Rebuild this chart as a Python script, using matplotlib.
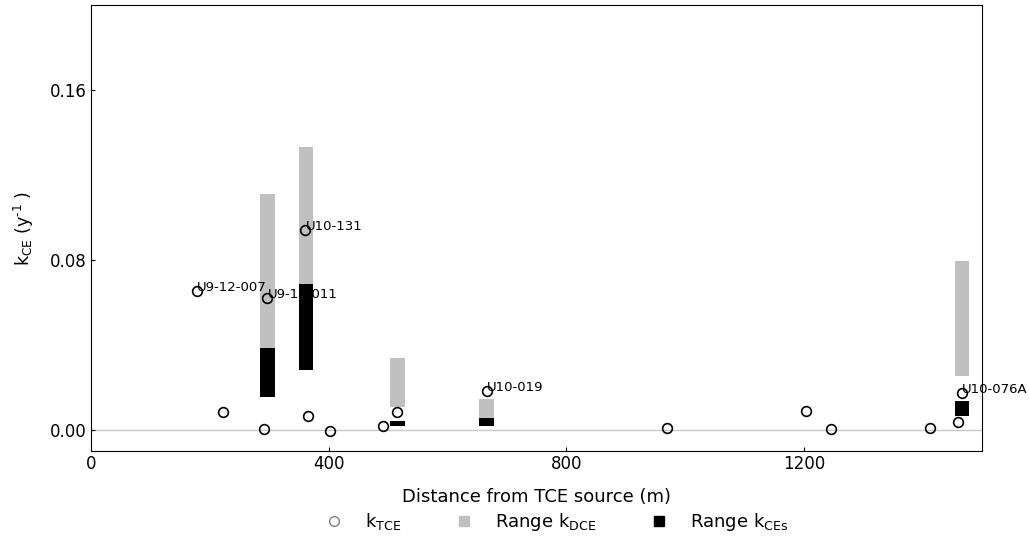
import matplotlib.pyplot as plt
from matplotlib.lines import Line2D

# k_TCE por pozo (distancia en m, k en 1/y)
dist_tce = [178, 222, 292, 297, 361, 366, 402, 491, 516, 666, 969, 1203, 1246, 1413, 1460, 1467]
k_tce = [0.0652, 0.0084, 0.0005, 0.062, 0.0939, 0.0066, -0.0008, 0.002, 0.0084,
         0.0183, 0.0006, 0.0089, 0.0003, 0.0008, 0.0036, 0.0172]

# nombres de pozos etiquetados
pozos = ['U9-12-007', 'U9-12-011', 'U10-131', 'U10-019', 'U10-076A']
pozos_x = [178, 297, 361, 666, 1467]
pozos_y = [0.0652, 0.062, 0.0939, 0.0183, 0.0172]

# rangos k_DCE y k_CEs
dist_rango = [297, 362, 516, 666, 1466]
dce_min = [0.0385, 0.0685, 0.0109, 0.0056, 0.0253]
dce_max = [0.111, 0.133, 0.0338, 0.0144, 0.0794]
ces_min = [0.0156, 0.0283, 0.0017, 0.0019, 0.0067]
ces_max = [0.0385, 0.0685, 0.0041, 0.0056, 0.0135]

fig, ax = plt.subplots(figsize=(10.29, 5.4), dpi=100)
fig.subplots_adjust(left=0.0884, right=0.9543, top=0.9907, bottom=0.1648)

ax.axhline(0, color='#c8c8c8', lw=1, zorder=0)

alto_dce = [b - a for a, b in zip(dce_min, dce_max)]
alto_ces = [b - a for a, b in zip(ces_min, ces_max)]
ax.bar(dist_rango, alto_dce, bottom=dce_min, width=24, color='#c0c0c0', zorder=1)
ax.bar(dist_rango, alto_ces, bottom=ces_min, width=24, color='black', zorder=3)

ax.plot(dist_tce, k_tce, 'o', mfc='none', mec='black', ms=7, mew=1.2, zorder=4)

for n, x, y in zip(pozos, pozos_x, pozos_y):
    ax.text(x, y, n, fontsize=9.5, zorder=2, clip_on=False)

ax.set_xlim(0, 1500)
ax.set_ylim(-0.01, 0.2)
ax.set_xticks([0, 400, 800, 1200])
ax.set_yticks([0.0, 0.08, 0.16])
ax.set_yticklabels(['0.00', '0.08', '0.16'])
ax.tick_params(direction='in', length=3, labelsize=12, pad=3)
ax.set_xlabel('Distance from TCE source (m)', fontsize=13, labelpad=11)
ax.set_ylabel(r'k$_{\mathrm{CE}}$ (y$^{\text{-1}}$ )', fontsize=12.5, labelpad=10)

h = [Line2D([], [], ls='none', marker='o', mfc='none', mec='gray', ms=7),
     Line2D([], [], ls='none', marker='s', color='#c0c0c0', ms=7),
     Line2D([], [], ls='none', marker='s', color='black', ms=7)]
fig.legend(h, [r'k$_{\mathrm{TCE}}$', r'Range k$_{\mathrm{DCE}}$', r'Range k$_{\mathrm{CEs}}$'],
           loc='center', bbox_to_anchor=(0.541, 0.033), ncol=3, frameon=False,
           fontsize=13, handlelength=1, handletextpad=1.2, columnspacing=3.0)

plt.savefig('out.png')
